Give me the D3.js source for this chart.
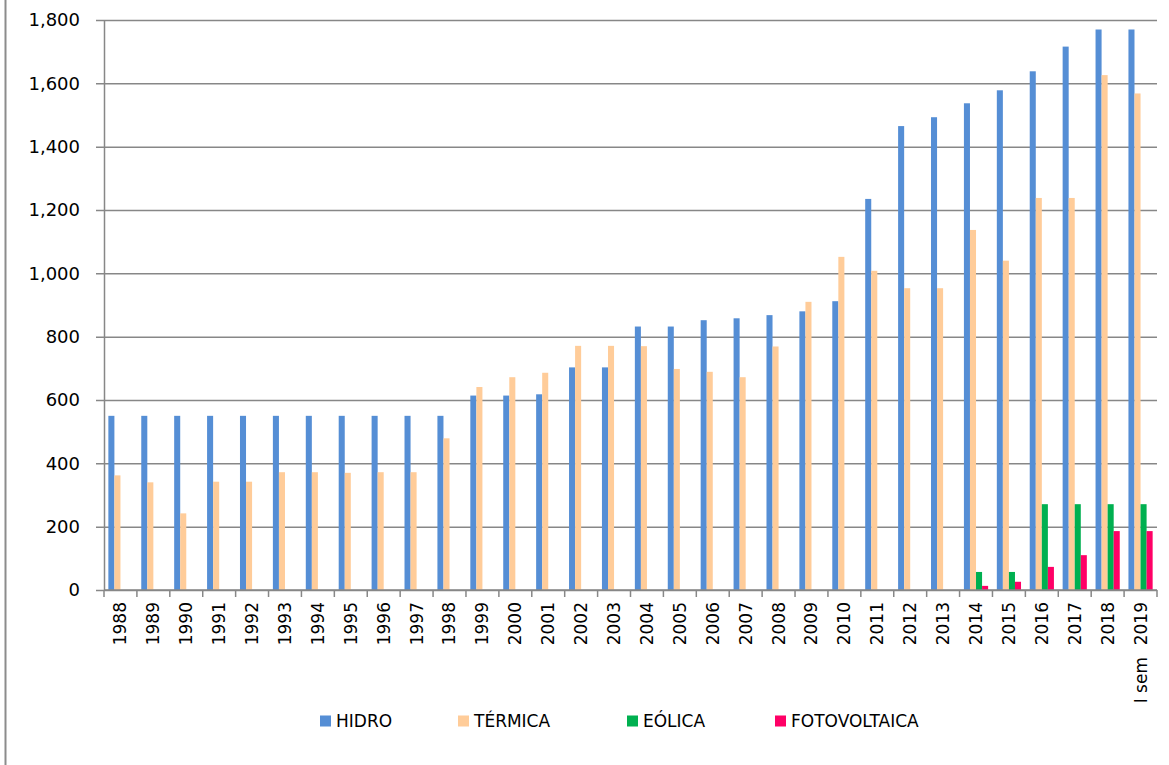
<!DOCTYPE html>
<meta charset="utf-8">
<style>
body { margin: 0; background: #fff; }
text { font-family: "DejaVu Sans", sans-serif; fill: #000; }
.grid line { stroke: #878787; stroke-width: 1.5; }
.grid path { display: none; }
.axis path, .axis line { stroke: #878787; stroke-width: 1.5; }
</style>
<svg width="1169" height="765"></svg>
<script src="https://cdn.jsdelivr.net/npm/d3@7"></script>
<script>

var years = ["1988","1989","1990","1991","1992","1993","1994","1995","1996","1997",
             "1998","1999","2000","2001","2002","2003","2004","2005","2006","2007",
             "2008","2009","2010","2011","2012","2013","2014","2015","2016","2017",
             "2018","2019"];
var yearNotes = {"2019": "I sem"};

var seriesNames = ["HIDRO", "TÉRMICA", "EÓLICA", "FOTOVOLTAICA"];
var seriesColors = ["#558ed5", "#ffcc99", "#00b050", "#ff0066"];

var hidro = [550,550,550,550,550,550,550,550,550,550,
             550,614,614,618,703,703,832,832,852,858,
             868,880,912,1235,1465,1493,1537,1578,1638,1716,
             1770,1770];
var termica = [362,340,242,342,342,372,372,370,372,372,
               479,641,672,686,771,771,770,698,689,672,
               769,910,1052,1008,953,953,1137,1040,1238,1238,
               1626,1568];
var eolica = [0,0,0,0,0,0,0,0,0,0,
              0,0,0,0,0,0,0,0,0,0,
              0,0,0,0,0,0,57,57,271,271,
              271,271];
var fotovoltaica = [0,0,0,0,0,0,0,0,0,0,
                    0,0,0,0,0,0,0,0,0,0,
                    0,0,0,0,0,0,13,26,73,110,
                    186,186];

var yTicks = [0,200,400,600,800,1000,1200,1400,1600,1800];

var svg = d3.select("svg"),
    margin = {top: 20, right: 12, bottom: 175, left: 104},
    width = +svg.attr("width") - margin.left - margin.right,
    height = +svg.attr("height") - margin.top - margin.bottom;

// frame line on the left edge
svg.append("line")
    .attr("x1", 5.5).attr("x2", 5.5)
    .attr("y1", 0).attr("y2", 765)
    .attr("stroke", "#8c8c8c")
    .attr("stroke-width", 2);

var x0 = d3.scaleBand().domain(years).range([0, width]);
var x1 = d3.scaleBand().domain(seriesNames).range([0, x0.bandwidth()]).paddingOuter(0.72);
var y = d3.scaleLinear().domain([0, 1800]).range([height, 0]);

var g = svg.append("g")
    .attr("transform", "translate(" + margin.left + "," + margin.top + ")");

// gridlines (they also make the short ticks left of the axis)
g.append("g")
    .attr("class", "grid")
    .attr("transform", "translate(" + width + ",0)")
    .call(d3.axisLeft(y).tickValues(yTicks).tickSize(width + 8).tickFormat(""));

// y axis
g.append("g")
    .attr("class", "axis axis--y")
    .call(d3.axisLeft(y).tickValues(yTicks).tickSize(0).tickPadding(24).tickFormat(d3.format(",")))
    .call(function(s) { s.select(".domain").attr("d", "M0.5," + y(1800) + "V" + y(0)); })
    .selectAll("text")
      .style("font-size", "18px");

// bars
var data = years.map(function(yr, i) {
  return {year: yr, values: [hidro[i], termica[i], eolica[i], fotovoltaica[i]]};
});

var groups = g.selectAll(".year")
  .data(data)
  .enter().append("g")
    .attr("class", "year")
    .attr("transform", function(d) { return "translate(" + x0(d.year) + ",0)"; });

groups.selectAll("rect")
  .data(function(d) {
    return d.values.map(function(v, j) { return {name: seriesNames[j], value: v, color: seriesColors[j]}; });
  })
  .enter().append("rect")
    .filter(function(d) { return d.value > 0; })
    .attr("x", function(d) { return x1(d.name); })
    .attr("y", function(d) { return y(d.value); })
    .attr("width", x1.bandwidth())
    .attr("height", function(d) { return height - y(d.value); })
    .attr("fill", function(d) { return d.color; });

// x axis
var xAxis = g.append("g")
    .attr("class", "axis axis--x")
    .attr("transform", "translate(0," + height + ")");

xAxis.append("path")
    .attr("d", "M0," + 0 + "H" + width);

xAxis.selectAll(".tickmark")
  .data(years.concat(["end"]))
  .enter().append("line")
    .attr("class", "tickmark")
    .attr("x1", function(d) { return d === "end" ? width : x0(d); })
    .attr("x2", function(d) { return d === "end" ? width : x0(d); })
    .attr("y1", 0)
    .attr("y2", 7);

var labels = xAxis.selectAll(".lbl")
  .data(years)
  .enter().append("g")
    .attr("class", "lbl")
    .attr("transform", function(d) { return "translate(" + (x0(d) + x0.bandwidth() / 2) + ",0)"; });

labels.append("text")
    .attr("transform", "rotate(-90)")
    .attr("x", -12)
    .attr("dy", "0.35em")
    .attr("text-anchor", "end")
    .style("font-size", "17px")
    .text(function(d) { return d; });

labels.filter(function(d) { return yearNotes[d]; })
  .append("text")
    .attr("transform", "rotate(-90)")
    .attr("x", -67)
    .attr("dy", "0.35em")
    .attr("text-anchor", "end")
    .style("font-size", "17px")
    .text(function(d) { return yearNotes[d]; });

// legend
var legendX = [320, 458, 627, 775];
var legend = svg.selectAll(".legend")
  .data(seriesNames)
  .enter().append("g")
    .attr("class", "legend")
    .attr("transform", function(d, i) { return "translate(" + legendX[i] + ",721)"; });

legend.append("rect")
    .attr("x", 0)
    .attr("y", -5.5)
    .attr("width", 11)
    .attr("height", 11)
    .attr("fill", function(d, i) { return seriesColors[i]; });

legend.append("text")
    .attr("x", 16)
    .attr("dy", "0.36em")
    .style("font-size", "17px")
    .text(function(d) { return d; });

</script>
